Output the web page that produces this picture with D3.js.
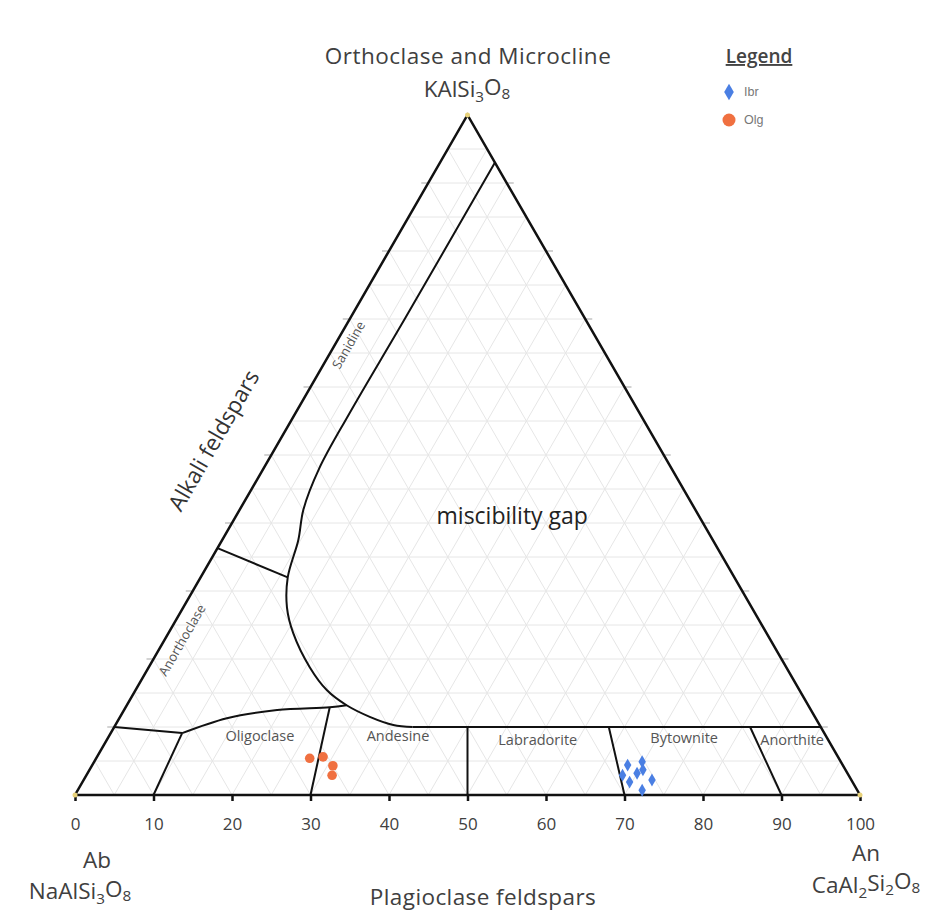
<!DOCTYPE html>
<html>
<head>
<meta charset="utf-8">
<script src="https://cdn.jsdelivr.net/npm/d3@7"></script>
<style>
  body { margin: 0; background: #fff; }
  svg { display: block; font-family: "Open Sans", Lato, sans-serif; }
</style>
</head>
<body>
<script>
const width  = 940
const height = 922

// samples, An and Or in mol % (Ab is the rest)
const ibrAn = [68.2, 69.8, 70.0, 72.4, 69.7, 68.3, 71.9, 70.5]
const ibrOr = [4.4, 4.9, 3.2, 2.2, 1.9, 2.9, 0.7, 3.7]
const olgAn = [27.2, 28.8, 30.7, 31.3]
const olgOr = [5.4, 5.6, 4.3, 2.9]

const anTicks = [0, 10, 20, 30, 40, 50, 60, 70, 80, 90, 100]
const sideTicks = [10, 20, 30, 40, 50, 60, 70, 80, 90]
const gridSteps = [5, 10, 15, 20, 25, 30, 35, 40, 45, 50, 55, 60, 65, 70, 75, 80, 85, 90, 95]

// field boundaries as [An, Or]
const gapCurve = [[7, 93], [7, 70], [6.9, 56], [7.1, 48], [8.1, 42], [9.7, 37.5], [11.1, 32],
  [13.2, 27.6], [15.9, 23.8], [20.5, 18.8], [24.4, 15.4], [28, 13.2], [31.8, 11.5], [35.4, 10.3], [38, 10]]
const plagTop = [[38, 10], [90, 10]]
const oligoTop = [[9.1, 9.1], [13.7, 11.3], [19.5, 12.5], [26, 12.9], [28, 13.2]]
const straightLines = [
  [[0, 10], [9.1, 9.1]],
  [[9.1, 9.1], [10, 0]],
  [[26, 12.9], [30, 0]],
  [[45, 10], [50, 0]],
  [[63, 10], [70, 0]],
  [[81, 10], [90, 0]],
  [[0, 36.3], [11.1, 32]]
]

const ibr = ibrAn.map((d, i) => [d, ibrOr[i]])
const olg = olgAn.map((d, i) => [d, olgOr[i]])

const x = d3.scaleLinear().domain([0, 100]).range([75, 860])
const y = d3.scaleLinear().domain([0, 100]).range([795, 115])
const px = d => x(d[0] + d[1] / 2)
const py = d => y(d[1])

const svg = d3.select("body").append("svg")
  .attr("width", width)
  .attr("height", height)
  .attr("viewBox", [0, 0, width, height])

//grid
const grid = []
gridSteps.forEach(k => {
  grid.push([[0, k], [100 - k, k]])       // Or const
  grid.push([[k, 0], [k, 100 - k]])       // An const
  grid.push([[100 - k, 0], [0, 100 - k]]) // Ab const
})
svg.append("g")
  .attr("stroke", "#e6e6e6")
  .attr("stroke-width", 1)
.selectAll("line")
.data(grid)
.join("line")
  .attr("x1", d => px(d[0])).attr("y1", d => py(d[0]))
  .attr("x2", d => px(d[1])).attr("y2", d => py(d[1]))

//side ticks
svg.append("g")
  .attr("stroke", "#b5b5b5")
  .attr("stroke-width", 1.2)
.selectAll("line")
.data(sideTicks.flatMap(k => [[[0, k], -7], [[100 - k, k], 7]]))
.join("line")
  .attr("x1", d => px(d[0])).attr("y1", d => py(d[0]))
  .attr("x2", d => px(d[0]) + d[1]).attr("y2", d => py(d[0]))

//bottom axis
svg.append("g")
  .attr("transform", `translate(0,${y(0)})`)
  .call(d3.axisBottom(x).tickValues(anTicks).tickSize(6).tickPadding(17))
  .call(g => g.select(".domain").remove())
  .call(g => g.selectAll(".tick line").attr("stroke", "#111").attr("stroke-width", 2.5))
  .call(g => g.selectAll(".tick text")
    .attr("font-family", "'Open Sans', sans-serif")
    .attr("font-size", 17)
    .attr("fill", "#404040"))

//triangle
const corners = [[0, 0], [100, 0], [0, 100]]
svg.append("path")
  .attr("fill", "none")
  .attr("stroke", "#111")
  .attr("stroke-width", 2.5)
  .attr("d", d3.line().x(px).y(py)(corners) + "Z")

//boundaries
const curve = d3.line().x(px).y(py).curve(d3.curveCatmullRom.alpha(0.5))
const straight = d3.line().x(px).y(py)
const bounds = svg.append("g")
  .attr("fill", "none")
  .attr("stroke", "#111")
  .attr("stroke-width", 2)
bounds.append("path").attr("d", curve(gapCurve))
bounds.append("path").attr("d", curve(oligoTop))
bounds.append("path").attr("d", straight(plagTop))
bounds.selectAll("path.s")
  .data(straightLines)
  .join("path")
  .attr("class", "s")
  .attr("d", d => straight(d))

//vertex marks
svg.append("g")
.selectAll("circle")
.data(corners)
.join("circle")
  .attr("cx", px).attr("cy", py)
  .attr("r", 2.5)
  .attr("fill", "#e8d27a")

//samples
svg.append("g")
  .attr("fill", "#4a7fe3")
.selectAll("path")
.data(ibr)
.join("path")
  .attr("transform", d => `translate(${px(d)},${py(d)})`)
  .attr("d", d3.symbol(d3.symbolDiamond, 48))

svg.append("g")
  .attr("fill", "#f07040")
.selectAll("circle")
.data(olg)
.join("circle")
  .attr("cx", px).attr("cy", py)
  .attr("r", 4.8)

//field labels
const small = [
  ["Oligoclase", 19.2, 8.7, 0], ["Andesine", 36.8, 8.7, 0], ["Labradorite", 54.9, 8.1, 0],
  ["Bytownite", 73.4, 8.4, 0], ["Anorthite", 87.3, 8.1, 0],
  ["Sanidine", 1.7, 66.2, -60], ["Anorthoclase", 2.2, 22.8, -60]
]
svg.append("g")
  .attr("font-size", 14.5)
  .attr("fill", "#555")
  .attr("text-anchor", "middle")
  .attr("dominant-baseline", "central")
.selectAll("text")
.data(small)
.join("text")
  .attr("transform", d => `translate(${px([d[1], d[2]])},${py([d[1], d[2]])}) rotate(${d[3]})`)
  .attr("font-size", d => d[3] ? 13 : null)
  .text(d => d[0])

svg.append("text")
  .attr("x", px([35.1, 41.2])).attr("y", py([35.1, 41.2]))
  .attr("text-anchor", "middle")
  .attr("dominant-baseline", "central")
  .attr("font-size", 23)
  .attr("fill", "#222")
  .text("miscibility gap")

svg.append("text")
  .attr("transform", `translate(${px([-8.5, 52.2])},${py([-8.5, 52.2])}) rotate(-60)`)
  .attr("text-anchor", "middle")
  .attr("dominant-baseline", "central")
  .attr("font-size", 22.5)
  .attr("fill", "#333")
  .text("Alkali feldspars")

//corner titles
function formula(sel, parts) {
  parts.forEach(p => {
    const t = sel.append("tspan").text(p[0])
    if (p[1]) t.attr("font-size", "0.68em").attr("dy", "0.3em")
    else if (p[2]) t.attr("dy", "-0.3em")
  })
}
const titles = svg.append("g")
  .attr("fill", "#404040")
  .attr("font-size", 22.5)
  .attr("text-anchor", "middle")
titles.append("text").attr("x", 468).attr("y", 64)
  .attr("letter-spacing", 0.5)
  .text("Orthoclase and Microcline")
titles.append("text").attr("x", 467).attr("y", 97)
  .call(formula, [["KAlSi"], ["3", 1], ["O", 0, 1], ["8", 1]])
titles.append("text").attr("x", 97).attr("y", 868).text("Ab")
titles.append("text").attr("x", 80).attr("y", 899)
  .call(formula, [["NaAlSi"], ["3", 1], ["O", 0, 1], ["8", 1]])
titles.append("text").attr("x", 866).attr("y", 861).text("An")
titles.append("text").attr("x", 866).attr("y", 893)
  .call(formula, [["CaAl"], ["2", 1], ["Si", 0, 1], ["2", 1], ["O", 0, 1], ["8", 1]])
titles.append("text").attr("x", 483).attr("y", 905)
  .attr("letter-spacing", 0.4)
  .text("Plagioclase feldspars")

//legend
const legend = svg.append("g")
legend.append("text")
  .attr("x", 759).attr("y", 63)
  .attr("text-anchor", "middle")
  .attr("font-size", 19)
  .attr("font-weight", 600)
  .attr("fill", "#444")
  .attr("text-decoration", "underline")
  .text("Legend")
legend.append("path")
  .attr("transform", "translate(729,92)")
  .attr("fill", "#4a7fe3")
  .attr("d", d3.symbol(d3.symbolDiamond, 80))
legend.append("circle")
  .attr("cx", 729).attr("cy", 120).attr("r", 6.5)
  .attr("fill", "#f07040")
legend.selectAll("text.k")
  .data(["Ibr", "Olg"])
  .join("text")
  .attr("class", "k")
  .attr("x", 744).attr("y", (d, i) => 92 + i * 28)
  .attr("dominant-baseline", "central")
  .attr("font-family", "Arial, sans-serif")
  .attr("font-size", 12.5)
  .attr("fill", "#777")
  .text(d => d)
</script>
</body>
</html>
